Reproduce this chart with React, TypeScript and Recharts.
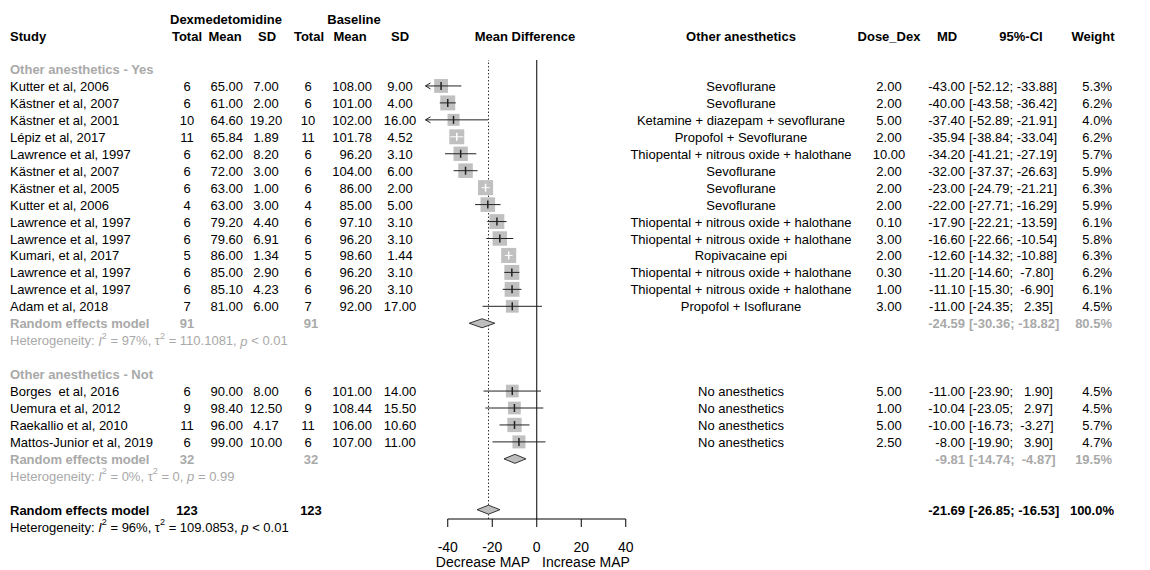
import React from 'react';
import { ScatterChart, Scatter, XAxis, YAxis, ReferenceLine } from 'recharts';

// study table
const studies = [
  'Kutter et al, 2006', 'Kästner et al, 2007', 'Kästner et al, 2001', 'Lépiz et al, 2017',
  'Lawrence et al, 1997', 'Kästner et al, 2007', 'Kästner et al, 2005', 'Kutter et al, 2006',
  'Lawrence et al, 1997', 'Lawrence et al, 1997', 'Kumari, et al, 2017', 'Lawrence et al, 1997',
  'Lawrence et al, 1997', 'Adam et al, 2018',
  'Borges  et al, 2016', 'Uemura et al, 2012', 'Raekallio et al, 2010', 'Mattos-Junior et al, 2019',
];
const dexN = [6, 6, 10, 11, 6, 6, 6, 4, 6, 6, 5, 6, 6, 7, 6, 9, 11, 6];
const dexMean = [65, 61, 64.6, 65.84, 62, 72, 63, 63, 79.2, 79.6, 86, 85, 85.1, 81, 90, 98.4, 96, 99];
const dexSd = [7, 2, 19.2, 1.89, 8.2, 3, 1, 3, 4.4, 6.91, 1.34, 2.9, 4.23, 6, 8, 12.5, 4.17, 10];
const baseN = [6, 6, 10, 11, 6, 6, 6, 4, 6, 6, 5, 6, 6, 7, 6, 9, 11, 6];
const baseMean = [108, 101, 102, 101.78, 96.2, 104, 86, 85, 97.1, 96.2, 98.6, 96.2, 96.2, 92, 101, 108.44, 106, 107];
const baseSd = [9, 4, 16, 4.52, 3.1, 6, 2, 5, 3.1, 3.1, 1.44, 3.1, 3.1, 17, 14, 15.5, 10.6, 11];
const otherAnes = [
  'Sevoflurane', 'Sevoflurane', 'Ketamine + diazepam + sevoflurane', 'Propofol + Sevoflurane',
  'Thiopental + nitrous oxide + halothane', 'Sevoflurane', 'Sevoflurane', 'Sevoflurane',
  'Thiopental + nitrous oxide + halothane', 'Thiopental + nitrous oxide + halothane', 'Ropivacaine epi',
  'Thiopental + nitrous oxide + halothane', 'Thiopental + nitrous oxide + halothane', 'Propofol + Isoflurane',
  'No anesthetics', 'No anesthetics', 'No anesthetics', 'No anesthetics',
];
const doseDex = [2, 2, 5, 2, 10, 2, 2, 2, 0.1, 3, 2, 0.3, 1, 3, 5, 1, 5, 2.5];
const md = [-43, -40, -37.4, -35.94, -34.2, -32, -23, -22, -17.9, -16.6, -12.6, -11.2, -11.1, -11, -11, -10.04, -10, -8];
const ciLo = [-52.12, -43.58, -52.89, -38.84, -41.21, -37.37, -24.79, -27.71, -22.21, -22.66, -14.32, -14.6, -15.3, -24.35, -23.9, -23.05, -16.73, -19.9];
const ciHi = [-33.88, -36.42, -21.91, -33.04, -27.19, -26.63, -21.21, -16.29, -13.59, -10.54, -10.88, -7.8, -6.9, 2.35, 1.9, 2.97, -3.27, 3.9];
const weight = [5.3, 6.2, 4.0, 6.2, 5.7, 5.9, 6.3, 5.9, 6.1, 5.8, 6.3, 6.2, 6.1, 4.5, 4.5, 4.5, 5.7, 4.7];

// subgroups + overall
const groupLabels = ['Other anesthetics - Yes', 'Other anesthetics - Not'];
const groupN = [91, 32];
const groupMd = [-24.59, -9.81];
const groupLo = [-30.36, -14.74];
const groupHi = [-18.82, -4.87];
const groupW = [80.5, 19.5];
const groupI2 = ['97%', '0%'];
const groupTau2 = ['110.1081', '0'];
const groupP = ['< 0.01', '= 0.99'];
const totalN = 123;
const totalMd = -21.69;
const totalLo = -26.85;
const totalHi = -16.53;
const totalI2 = '96%';
const totalTau2 = '109.0853';
const totalP = '< 0.01';
const xTicks = [-40, -20, 0, 20, 40];

const W = 1150;
const H = 570;
const FONT = '"Liberation Sans", Arial, sans-serif';
const GRAY = '#a9a9a9';
const SQ = '#c0c0c0';
const ROW0 = 69;
const ROWH = 16.95;
const X_MIN = -50;
const X_MAX = 50;
const PLOT_TOP = 60;
const PLOT_BOTTOM = 519;
const Y_MIN = (PLOT_TOP - ROW0) / ROWH;
const Y_MAX = (PLOT_BOTTOM - ROW0) / ROWH;

const studyRow = (i: number) => (i < 14 ? i + 1 : i + 5);
const groupHeadRow = [0, 18];
const groupSumRow = [15, 23];
const totalRow = 26;
const rowPx = (r: number) => ROW0 + ROWH * r + 0.5;

const f2 = (v: number) => v.toFixed(2);
const ci = (lo: number, hi: number) => `[${f2(lo)}; ${f2(hi).padStart(6, ' ')}]`;

const points = md.map((m, i) => ({ x: m, y: studyRow(i) }));

const studyShape = (i: number) => (p: any) => {
  const lo = Math.max(ciLo[i], X_MIN);
  const hi = Math.min(ciHi[i], X_MAX);
  const ppu = (p.x2 - p.x1) / (hi - lo);
  const cx = p.x1 + (md[i] - lo) * ppu;
  const y = p.y1;
  const side = 6 * Math.sqrt(weight[i]);
  const col = (ciHi[i] - ciLo[i]) * ppu < side ? '#fff' : '#222';
  return (
    <g>
      <rect x={cx - side / 2} y={y - side / 2} width={side} height={side} fill={SQ} />
      <line x1={p.x1} x2={p.x2} y1={y} y2={y} stroke={col} strokeWidth={1} />
      <line x1={cx} x2={cx} y1={y - 4} y2={y + 4} stroke={col} strokeWidth={1.5} />
      {ciLo[i] < X_MIN && (
        <polyline points={`${p.x1 + 5},${y - 3} ${p.x1},${y} ${p.x1 + 5},${y + 3}`} fill="none" stroke={col} />
      )}
    </g>
  );
};

const diamondShape = (est: number, lo: number, hi: number) => (p: any) => {
  const cx = p.x1 + ((est - lo) / (hi - lo)) * (p.x2 - p.x1);
  const y = p.y1;
  return (
    <polygon
      points={`${p.x1},${y} ${cx},${y - 4.5} ${p.x2},${y} ${cx},${y + 4.5}`}
      fill="#bdbdbd"
      stroke="#333"
      strokeWidth={1}
    />
  );
};

function T({ x, y, a = 'start', b = false, c = '#000', s = 13, children }: any) {
  return (
    <text x={x} y={y} textAnchor={a} dominantBaseline="central" fontWeight={b ? 'bold' : 'normal'}
      fill={c} fontSize={s} style={{ whiteSpace: 'pre' }}>
      {children}
    </text>
  );
}

function Het({ y, i2, tau2, p, c }: any) {
  return (
    <text x={10} y={y} dominantBaseline="central" fill={c} fontSize={13} style={{ whiteSpace: 'pre' }}>
      Heterogeneity: <tspan fontStyle="italic">I</tspan>
      <tspan baselineShift="super" fontSize={9}>2</tspan>
      {` = ${i2}, \u03c4`}
      <tspan baselineShift="super" fontSize={9}>2</tspan>
      {` = ${tau2}, `}
      <tspan fontStyle="italic">p</tspan>
      {` ${p}`}
    </text>
  );
}

function Table() {
  const hy1 = 19;
  const hy2 = 36;
  return (
    <svg width={W} height={H} style={{ position: 'absolute', left: 0, top: 0, fontFamily: FONT, pointerEvents: 'none' }}>
      <T x={226} y={hy1} a="middle" b>Dexmedetomidine</T>
      <T x={354} y={hy1} a="middle" b>Baseline</T>
      <T x={10} y={hy2} b>Study</T>
      <T x={187} y={hy2} a="middle" b>Total</T>
      <T x={225} y={hy2} a="middle" b>Mean</T>
      <T x={267} y={hy2} a="middle" b>SD</T>
      <T x={309} y={hy2} a="middle" b>Total</T>
      <T x={350} y={hy2} a="middle" b>Mean</T>
      <T x={400} y={hy2} a="middle" b>SD</T>
      <T x={525} y={hy2} a="middle" b>Mean Difference</T>
      <T x={741} y={hy2} a="middle" b>Other anesthetics</T>
      <T x={889} y={hy2} a="middle" b>Dose_Dex</T>
      <T x={947} y={hy2} a="middle" b>MD</T>
      <T x={1021} y={hy2} a="middle" b>95%-CI</T>
      <T x={1093} y={hy2} a="middle" b>Weight</T>

      {studies.map((s, i) => {
        const y = rowPx(studyRow(i));
        return (
          <g key={i}>
            <T x={10} y={y}>{s}</T>
            <T x={187} y={y} a="middle">{dexN[i]}</T>
            <T x={243} y={y} a="end">{f2(dexMean[i])}</T>
            <T x={266} y={y} a="middle">{f2(dexSd[i])}</T>
            <T x={308} y={y} a="middle">{baseN[i]}</T>
            <T x={372} y={y} a="end">{f2(baseMean[i])}</T>
            <T x={400} y={y} a="middle">{f2(baseSd[i])}</T>
            <T x={741} y={y} a="middle">{otherAnes[i]}</T>
            <T x={889} y={y} a="middle">{f2(doseDex[i])}</T>
            <T x={965} y={y} a="end">{f2(md[i])}</T>
            <T x={969} y={y}>{ci(ciLo[i], ciHi[i])}</T>
            <T x={1112} y={y} a="end">{weight[i].toFixed(1)}%</T>
          </g>
        );
      })}

      {groupLabels.map((g, k) => {
        const yh = rowPx(groupHeadRow[k]);
        const ys = rowPx(groupSumRow[k]);
        return (
          <g key={g}>
            <T x={10} y={yh} b c={GRAY}>{g}</T>
            <T x={10} y={ys} b c={GRAY}>Random effects model</T>
            <T x={187} y={ys} a="middle" b c={GRAY}>{groupN[k]}</T>
            <T x={311} y={ys} a="middle" b c={GRAY}>{groupN[k]}</T>
            <T x={965} y={ys} a="end" b c={GRAY}>{f2(groupMd[k])}</T>
            <T x={969} y={ys} b c={GRAY}>{ci(groupLo[k], groupHi[k])}</T>
            <T x={1112} y={ys} a="end" b c={GRAY}>{groupW[k].toFixed(1)}%</T>
            <Het y={rowPx(groupSumRow[k] + 1)} i2={groupI2[k]} tau2={groupTau2[k]} p={groupP[k]} c={GRAY} />
          </g>
        );
      })}

      <T x={10} y={rowPx(totalRow)} b>Random effects model</T>
      <T x={187} y={rowPx(totalRow)} a="middle" b>{totalN}</T>
      <T x={311} y={rowPx(totalRow)} a="middle" b>{totalN}</T>
      <T x={965} y={rowPx(totalRow)} a="end" b>{f2(totalMd)}</T>
      <T x={969} y={rowPx(totalRow)} b>{ci(totalLo, totalHi)}</T>
      <T x={1114} y={rowPx(totalRow)} a="end" b>100.0%</T>
      <Het y={rowPx(totalRow + 1)} i2={totalI2} tau2={totalTau2} p={totalP} c="#000" />

      <T x={530} y={562} a="end" s={14}>Decrease MAP</T>
      <T x={542} y={562} s={14}>Increase MAP</T>
    </svg>
  );
}

export default function App() {
  return (
    <div style={{ position: 'absolute', left: 0, top: 0, width: W, height: H, background: '#fff', fontFamily: FONT }}>
      <ScatterChart width={W} height={H} margin={{ top: PLOT_TOP, left: 425.5, right: 502, bottom: 0 }}>
        <XAxis
          type="number"
          dataKey="x"
          domain={[X_MIN, X_MAX]}
          ticks={xTicks}
          interval={0}
          allowDataOverflow
          axisLine={false}
          tickLine={{ stroke: '#000' }}
          tickSize={8}
          tickMargin={15}
          height={H - PLOT_BOTTOM}
          tick={{ fill: '#000', fontSize: 14, fontFamily: FONT }}
        />
        <YAxis type="number" dataKey="y" domain={[Y_MIN, Y_MAX]} reversed hide width={0} allowDataOverflow />
        <ReferenceLine x={totalMd} stroke="#333" strokeDasharray="1.5 2" ifOverflow="visible" />
        <ReferenceLine x={0} stroke="#000" ifOverflow="visible" />
        <ReferenceLine
          segment={[{ x: xTicks[0], y: Y_MAX }, { x: xTicks[xTicks.length - 1], y: Y_MAX }]}
          stroke="#000"
          ifOverflow="visible"
        />
        {md.map((m, i) => (
          <ReferenceLine
            key={'s' + i}
            segment={[
              { x: Math.max(ciLo[i], X_MIN), y: studyRow(i) },
              { x: Math.min(ciHi[i], X_MAX), y: studyRow(i) },
            ]}
            ifOverflow="visible"
            shape={studyShape(i)}
          />
        ))}
        {groupMd.map((m, k) => (
          <ReferenceLine
            key={'g' + k}
            segment={[{ x: groupLo[k], y: groupSumRow[k] }, { x: groupHi[k], y: groupSumRow[k] }]}
            ifOverflow="visible"
            shape={diamondShape(m, groupLo[k], groupHi[k])}
          />
        ))}
        <ReferenceLine
          segment={[{ x: totalLo, y: totalRow }, { x: totalHi, y: totalRow }]}
          ifOverflow="visible"
          shape={diamondShape(totalMd, totalLo, totalHi)}
        />
        <Scatter data={points} isAnimationActive={false} shape={() => <g />} />
      </ScatterChart>
      <Table />
    </div>
  );
}
